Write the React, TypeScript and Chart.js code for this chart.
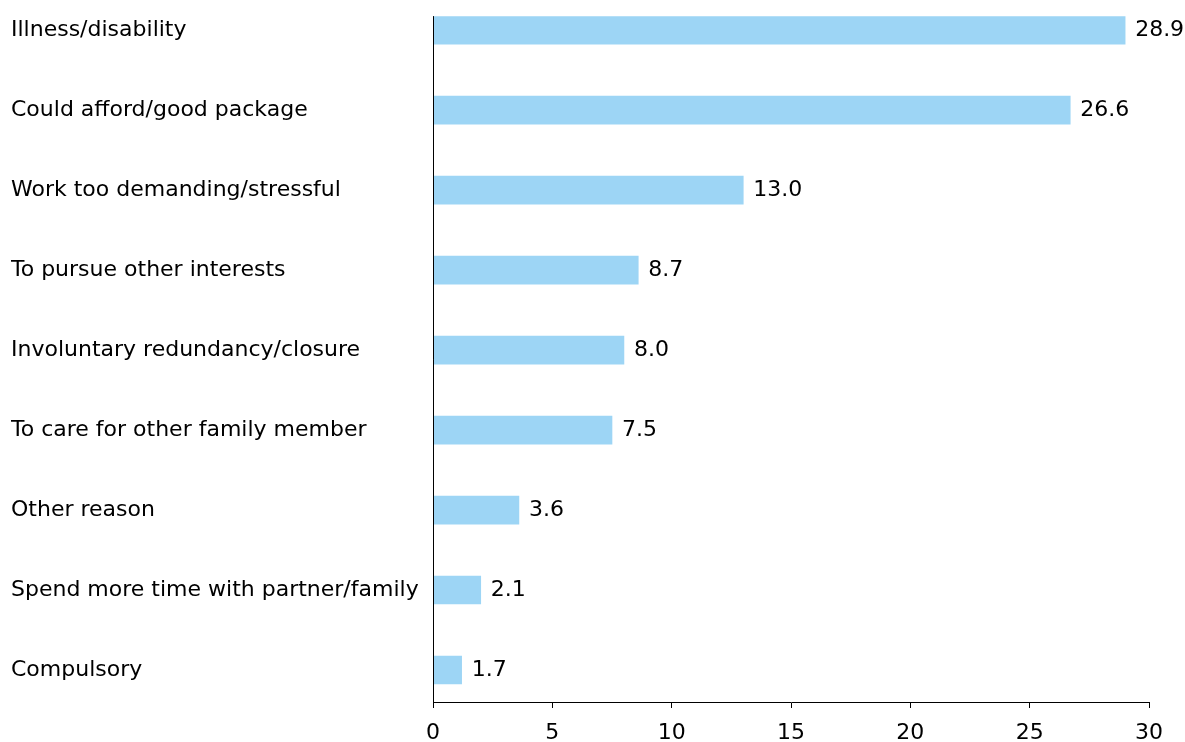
import React, { useEffect, useRef } from "react";
import { Chart, registerables } from "chart.js";

Chart.register(...registerables);

// Reasons for leaving work (share, %)
const categories = [
  "Illness/disability",
  "Could afford/good package",
  "Work too demanding/stressful",
  "To pursue other interests",
  "Involuntary redundancy/closure",
  "To care for other family member",
  "Other reason",
  "Spend more time with partner/family",
  "Compulsory",
];

// bar lengths as drawn in the picture
const barValues = [29.0, 26.7, 13.0, 8.6, 8.0, 7.5, 3.6, 2.0, 1.2];

// value labels as printed next to the bars
const valueLabels = ["28.9", "26.6", "13.0", "8.7", "8.0", "7.5", "3.6", "2.1", "1.7"];

const xTicks = [0, 5, 10, 15, 20, 25, 30];

const FONT = "'DejaVu Sans', Verdana, sans-serif";

export default function App() {
  const canvasRef = useRef<HTMLCanvasElement | null>(null);

  useEffect(() => {
    if (!canvasRef.current) return;

    const valueLabelPlugin = {
      id: "valueLabels",
      afterDatasetsDraw(chart: any) {
        const ctx = chart.ctx;
        const meta = chart.getDatasetMeta(0);
        const area = chart.chartArea;
        ctx.save();
        // redraw the category axis line on top of the bars
        const x0 = Math.round(chart.scales.x.getPixelForValue(0)) + 0.5;
        ctx.strokeStyle = "#000";
        ctx.lineWidth = 1;
        ctx.beginPath();
        ctx.moveTo(x0, area.top);
        ctx.lineTo(x0, area.bottom);
        ctx.stroke();

        ctx.font = `22px ${FONT}`;
        ctx.fillStyle = "#000";
        ctx.textAlign = "left";
        ctx.textBaseline = "middle";
        meta.data.forEach((el: any, i: number) => {
          ctx.fillText(valueLabels[i], el.x + 10, el.y);
        });
        ctx.restore();
      },
    };

    const chart = new Chart(canvasRef.current, {
      type: "bar",
      data: {
        datasets: [
          {
            data: barValues.map((v, i) => ({ x: v, y: i })),
            backgroundColor: "#9dd5f5",
            borderWidth: 0,
            barThickness: 28,
          },
        ],
      },
      options: {
        indexAxis: "y",
        animation: false,
        responsive: true,
        maintainAspectRatio: false,
        layout: { padding: { top: 15, left: 11, right: 36, bottom: 0 } },
        plugins: {
          legend: { display: false },
          tooltip: { enabled: false },
        },
        scales: {
          x: {
            type: "linear",
            position: "bottom",
            min: xTicks[0],
            max: xTicks[xTicks.length - 1],
            afterFit: (scale: any) => {
              scale.height = 40;
            },
            ticks: {
              stepSize: 5,
              color: "#000",
              padding: 12,
              font: { family: FONT, size: 22 },
            },
            grid: {
              drawOnChartArea: false,
              drawTicks: true,
              tickLength: 6,
              color: "#000",
            },
            border: { display: true, color: "#000", width: 1 },
          },
          y: {
            type: "linear",
            reverse: true,
            offset: false,
            min: -0.175,
            max: 8.4,
            afterFit: (scale: any) => {
              scale.width = 422;
            },
            afterBuildTicks: (scale: any) => {
              scale.ticks = categories.map((_, i) => ({ value: i }));
            },
            ticks: {
              stepSize: 1,
              crossAlign: "far",
              color: "#000",
              font: { family: FONT, size: 22 },
              callback: (v: any) => categories[v as number] ?? "",
            },
            grid: { display: false, offset: false },
            border: { display: true, color: "#000", width: 1 },
          },
        },
      },
      plugins: [valueLabelPlugin],
    });

    return () => chart.destroy();
  }, []);

  return (
    <div
      style={{
        position: "absolute",
        left: 0,
        top: 0,
        width: 1185,
        height: 742,
        background: "#fff",
      }}
    >
      <canvas ref={canvasRef} />
    </div>
  );
}
